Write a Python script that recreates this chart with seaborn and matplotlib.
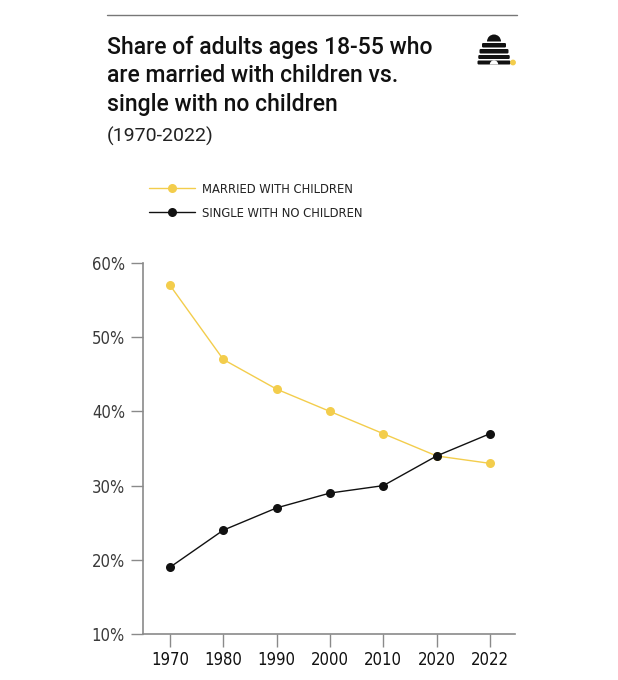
import matplotlib
matplotlib.use("Agg")
import matplotlib.pyplot as plt
import seaborn as sns
import pandas as pd
from matplotlib import font_manager
from matplotlib.font_manager import FontProperties
from matplotlib.lines import Line2D
from matplotlib.patches import FancyBboxPatch, Circle, Wedge, Rectangle

years = ["1970", "1980", "1990", "2000", "2010", "2020", "2022"]
married_with_children = [57, 47, 43, 40, 37, 34, 33]
single_no_children = [19, 24, 27, 29, 30, 34, 37]
series_names = ["MARRIED WITH CHILDREN", "SINGLE WITH NO CHILDREN"]
y_ticks = [10, 20, 30, 40, 50, 60]

YELLOW = "#f3cd4c"
BLACK = "#111111"
GRAY = "#8a8a8a"


def find_narrow():
    # look for a condensed/narrow face among the installed fonts
    prefs = ["LiberationSansNarrow-Regular", "DejaVuSansCondensed.ttf", "Condensed-Regular",
             "Narrow", "Condensed"]
    files = [f.fname for f in font_manager.fontManager.ttflist]
    for p in prefs:
        for fn in files:
            name = fn.split("/")[-1]
            if p in name and "Bold" not in name and "Oblique" not in name and "Italic" not in name:
                return fn
    return None


narrow_file = find_narrow()


def narrow(size):
    if narrow_file:
        return FontProperties(fname=narrow_file, size=size)
    return FontProperties(family="DejaVu Sans", stretch="condensed", size=size)


df = pd.DataFrame({
    "year": years * 2,
    "share": married_with_children + single_no_children,
    "series": [series_names[0]] * len(years) + [series_names[1]] * len(years),
})

sns.set_style("white")
fig = plt.figure(figsize=(6.18, 6.8), dpi=100)
ax = fig.add_axes([0.2314, 0.0676, 0.602, 0.5456])

sns.lineplot(data=df, x="year", y="share", hue="series",
             palette=[YELLOW, BLACK], marker="o", markersize=6.5,
             markeredgewidth=0, linewidth=1.0, ax=ax, legend=False)

ax.set_ylim(10, 60)
ax.set_xlim(-0.506, 6.47)
ax.set_yticks(y_ticks)
ax.set_yticklabels([f"{v}%" for v in y_ticks])
ax.set_xticks(range(len(years)))
ax.set_xticklabels(years)
for t in ax.get_yticklabels():
    t.set_fontproperties(narrow(12))
    t.set_color("#3a3a3a")
for t in ax.get_xticklabels():
    t.set_fontproperties(narrow(12))
    t.set_color("#111111")
ax.set_xlabel("")
ax.set_ylabel("")
ax.tick_params(axis="both", length=9, width=1, color=GRAY, direction="out",
               bottom=True, left=True)
ax.tick_params(axis="y", pad=4)
ax.tick_params(axis="x", pad=3)
for s in ["top", "right"]:
    ax.spines[s].set_visible(False)
for s in ["left", "bottom"]:
    ax.spines[s].set_color(GRAY)
    ax.spines[s].set_linewidth(1.2)

# legend
handles = [Line2D([0], [0], color=c, marker="o", markersize=6.5, markeredgewidth=0, linewidth=1.0)
           for c in [YELLOW, BLACK]]
leg = fig.legend(handles, series_names, loc="upper left", bbox_to_anchor=(0.222, 0.748),
                 frameon=False, handlelength=3.6, handletextpad=0.5, labelspacing=0.85,
                 prop=narrow(9.3))
for t in leg.get_texts():
    t.set_color("#222222")

# header rule
fig.add_artist(Line2D([107 / 618, 517 / 618], [1 - 15 / 680, 1 - 15 / 680],
                      color="#777777", linewidth=1.0))

# title
title_font = ["Roboto", "Open Sans", "DejaVu Sans"]
title_lines = ["Share of adults ages 18-55 who", "are married with children vs.", "single with no children"]
for i, line in enumerate(title_lines):
    fig.text(107 / 618, 1 - (54 + 28.5 * i) / 680, line, family=title_font, fontsize=16.6,
             weight="medium", color="#111111", va="baseline", ha="left")
fig.text(107 / 618, 1 - 142 / 680, "(1970-2022)", family=title_font, fontsize=14,
         color="#222222", va="baseline", ha="left")

# beehive logo (pixel units inside a small axes, y up)
lax = fig.add_axes([474 / 618, 1 - 68 / 680, 46 / 618, 34 / 680])
lax.set_xlim(0, 46)
lax.set_ylim(0, 34)
lax.axis("off")
cx = 20
lax.add_patch(Wedge((cx, 26.5), 7, 0, 180, color=BLACK, linewidth=0))
bands = [(20.5, 4.5, 24), (14.5, 4.5, 29), (9, 4, 31.5), (3.5, 4, 33)]
for yb, h, w in bands:
    lax.add_patch(FancyBboxPatch((cx - w / 2, yb), w, h, boxstyle="round,pad=0,rounding_size=1.2",
                                 color=BLACK, linewidth=0))
lax.add_patch(Wedge((cx, 3.5), 4.2, 0, 180, color="white", linewidth=0))
lax.add_patch(Circle((39, 5.5), 2.2, color=YELLOW))

fig.savefig("out.png", dpi=100, facecolor="white")
